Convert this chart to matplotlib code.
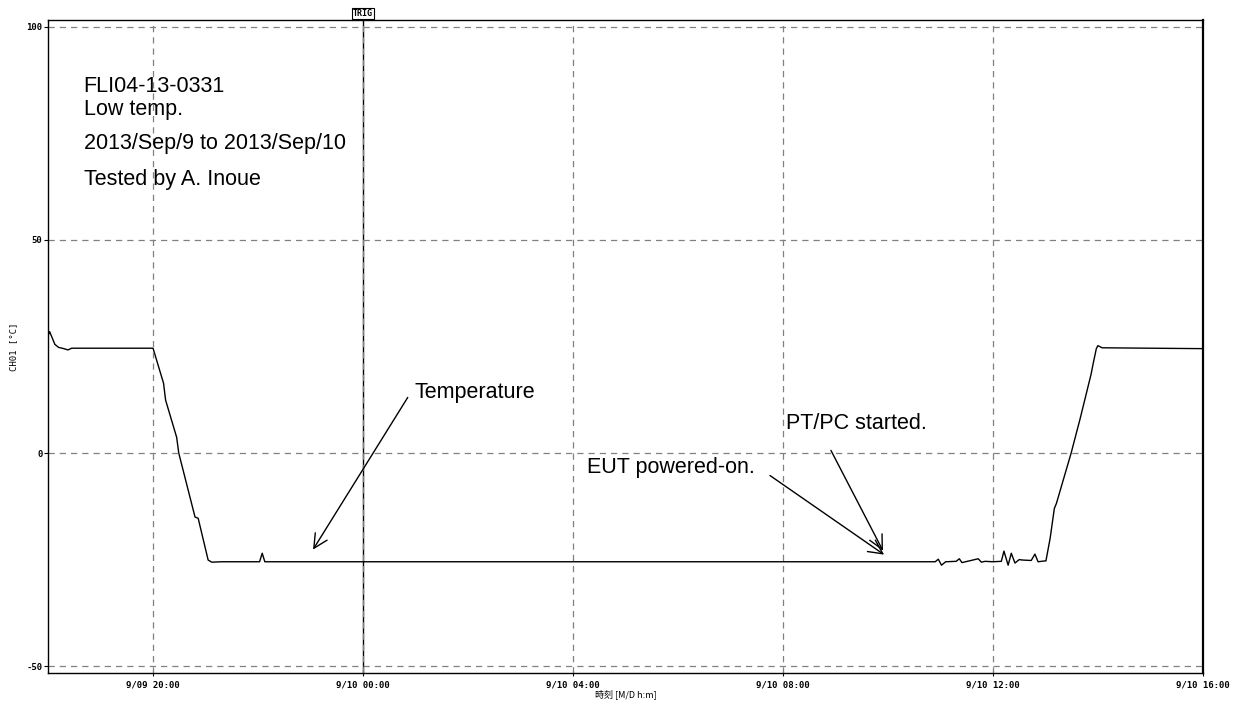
import matplotlib.pyplot as plt
import numpy as np

# hours counted from 9/09 00:00
hours = [18.0, 18.03, 18.08, 18.13, 18.2, 18.3, 18.38, 18.45, 19.0, 20.0,
         20.2, 20.24, 20.45, 20.49, 20.8, 20.86, 21.05, 21.12, 21.3,
         22.03, 22.08, 22.13, 24.0, 30.0, 34.9,
         34.96, 35.02, 35.1, 35.3, 35.36, 35.41, 35.72, 35.78, 35.85, 36.0,
         36.16, 36.21, 36.29, 36.35, 36.42, 36.5, 36.57, 36.73, 36.8, 36.86, 36.99,
         37.01, 37.09, 37.17, 37.21, 37.3, 37.49, 37.66, 37.81, 37.87, 37.91,
         37.97, 38.0, 38.08, 39.0, 40.0]
temp = [27.5, 28.5, 27.0, 25.5, 24.8, 24.5, 24.2, 24.6, 24.6, 24.6,
        16.4, 12.4, 3.7, 0.0, -15.0, -15.3, -25.1, -25.6, -25.5,
        -25.5, -23.5, -25.5, -25.5, -25.5, -25.5,
        -24.9, -26.3, -25.5, -25.4, -24.8, -25.7, -24.8, -25.6, -25.4, -25.5,
        -25.4, -23.0, -26.3, -23.5, -25.8, -25.0, -25.1, -25.2, -23.7, -25.5, -25.3,
        -25.3, -20.0, -13.0, -11.8, -8.0, 0.0, 8.0, 15.5, 18.5, 21.0,
        24.5, 25.2, 24.7, 24.6, 24.5]

xticks = [20, 24, 28, 32, 36, 40]
xticklabels = ['9/09 20:00', '9/10 00:00', '9/10 04:00', '9/10 08:00', '9/10 12:00', '9/10 16:00']
yticks = [-50, 0, 50, 100]
trig_hour = 24

info_lines = [('FLI04-13-0331', 84.6), ('Low temp.', 79.3),
              ('2013/Sep/9 to 2013/Sep/10', 71.4), ('Tested by A. Inoue', 62.9)]

plt.rcParams['font.family'] = ['Liberation Sans', 'DejaVu Sans']
FS = 15.5

fig = plt.figure(figsize=(12.35, 7.02), dpi=100)
ax = fig.add_axes([0.0389, 0.0413, 0.9351, 0.9302])

ax.plot(hours, temp, color='black', lw=1.0)
ax.axvline(trig_hour, color='black', lw=1.0)
ax.text(trig_hour, 1.003, 'TRIG', transform=ax.get_xaxis_transform(), ha='center', va='bottom',
        fontsize=6, family=['DejaVu Sans Mono'], fontweight='bold',
        bbox=dict(boxstyle='square,pad=0.1', fc='white', ec='black', lw=0.8))

for x in xticks[:-1]:
    ax.axvline(x, color='gray', ls=(0, (5, 4)), lw=0.9)
for y in yticks:
    ax.axhline(y, color='gray', ls=(0, (5, 4)), lw=0.9)

ax.set_xlim(18, 40)
ax.set_ylim(-51.6, 101.6)
ax.set_xticks(xticks)
ax.set_xticklabels(xticklabels, family=['DejaVu Sans Mono'], fontsize=6.5, fontweight='bold')
ax.set_yticks(yticks)
ax.set_yticklabels([str(v) for v in yticks], family=['DejaVu Sans Mono'], fontsize=6.5, fontweight='bold')
ax.tick_params(axis='x', direction='inout', length=5, pad=3)
ax.tick_params(axis='y', direction='out', length=3, pad=1)
ax.set_xlabel('時刻 [M/D h:m]', family=['Noto Sans CJK JP', 'DejaVu Sans'], fontsize=6.5, labelpad=0)
ax.set_ylabel('CH01 [°C]', family=['DejaVu Sans Mono'], fontsize=6.5, labelpad=6)
for s in ax.spines.values():
    s.set_linewidth(1.0)
ax.spines['right'].set_linewidth(1.6)

for txt, yv in info_lines:
    ax.text(18.68, yv, txt, fontsize=FS, va='baseline', ha='left')

arrow = dict(arrowstyle='->,head_length=1.0,head_width=0.5', color='black', lw=1.0)
ax.annotate('', xy=(23.02, -23.2), xytext=(24.88, 13.6), arrowprops=arrow)
ax.text(24.98, 12.9, 'Temperature', fontsize=FS, va='baseline')
ax.annotate('', xy=(33.97, -24.2), xytext=(31.71, -4.9), arrowprops=arrow)
ax.text(28.27, -4.7, 'EUT powered-on.', fontsize=FS, va='baseline')
ax.annotate('', xy=(33.93, -23.5), xytext=(32.89, 1.2), arrowprops=arrow)
ax.text(32.05, 5.6, 'PT/PC started.', fontsize=FS, va='baseline')

fig.savefig('out.png', dpi=100)
